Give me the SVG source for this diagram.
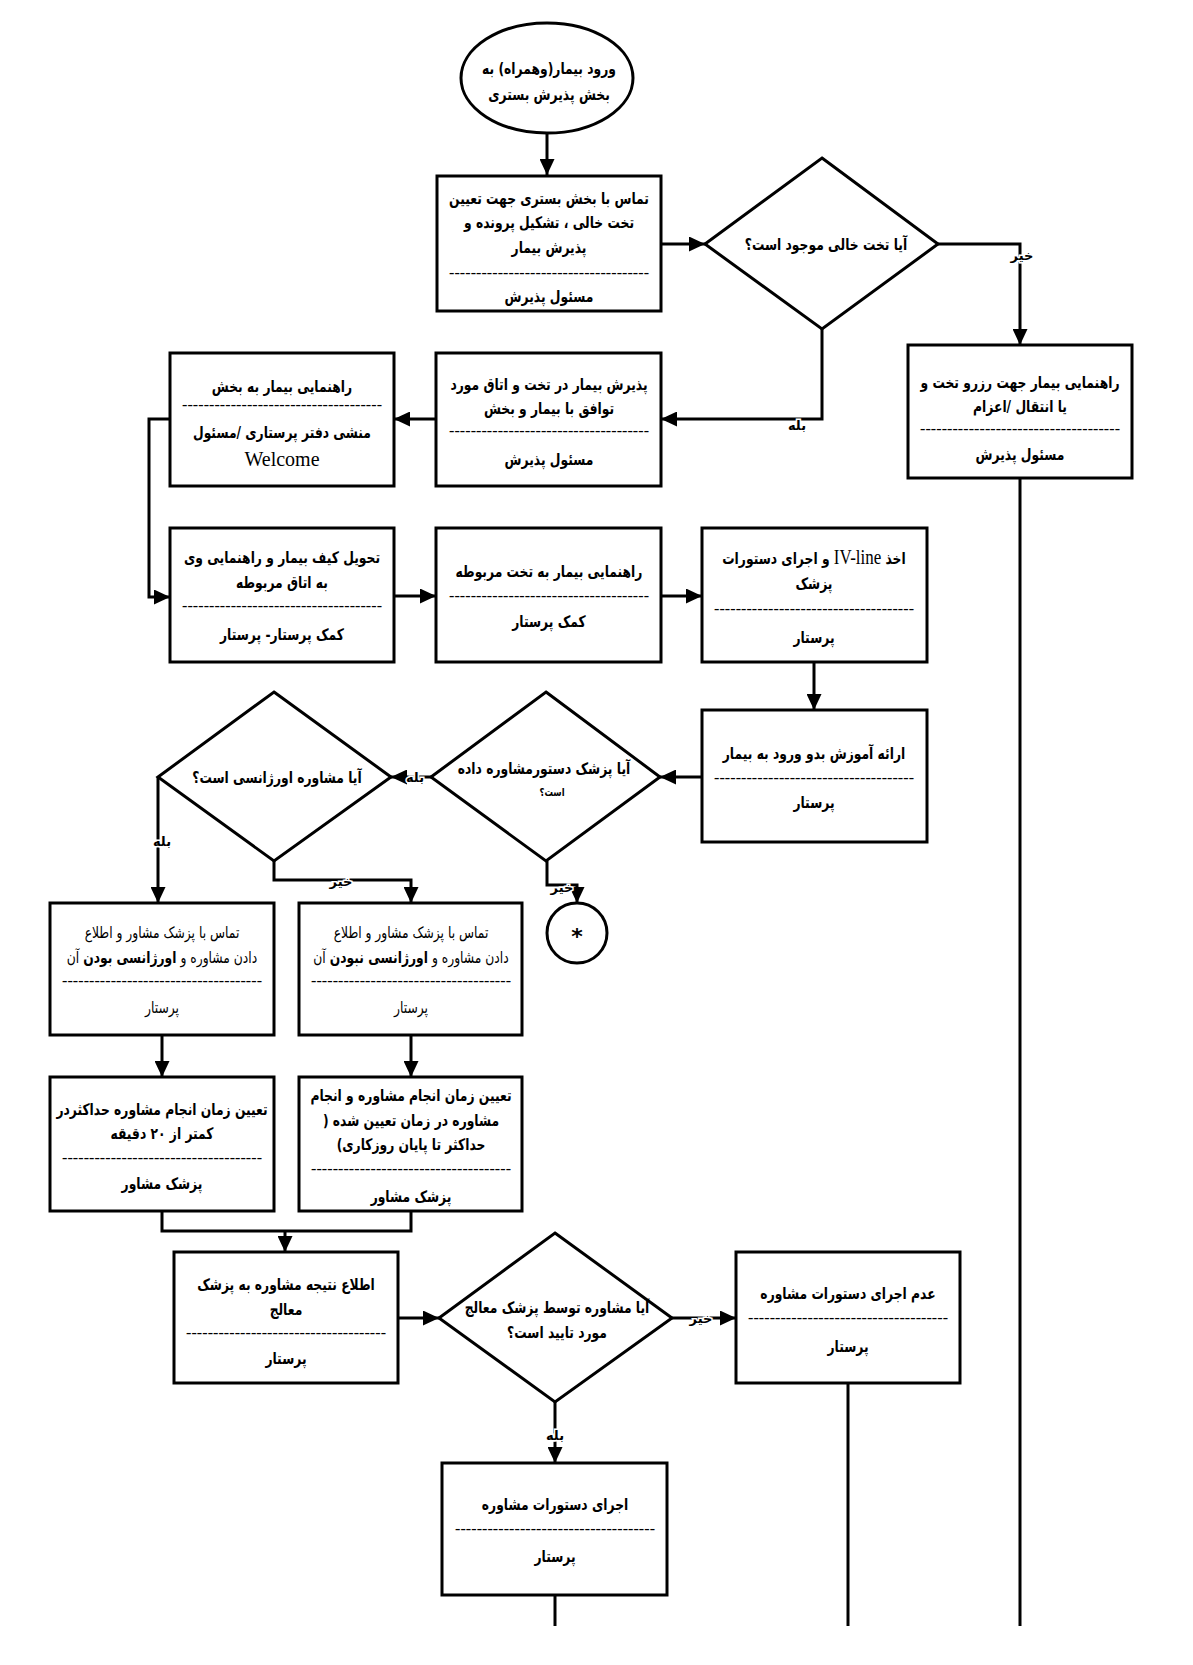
<svg xmlns="http://www.w3.org/2000/svg" width="1193" height="1665" viewBox="0 0 1193 1665">
<defs>
<marker id="ah" markerUnits="userSpaceOnUse" markerWidth="17" markerHeight="15" refX="16" refY="7.5" orient="auto">
<path d="M0,0 L16,7.5 L0,15 z" fill="#000"/>
</marker>
<style>
.box{fill:#fff;stroke:#000;stroke-width:3}
.ln{fill:none;stroke:#000;stroke-width:3}
.t{font-family:"DejaVu Sans",sans-serif;font-size:16px;font-weight:bold;text-anchor:middle;fill:#000;transform:scaleX(0.77)}
.n{font-weight:normal}
.d{font-family:"Liberation Serif",serif;font-size:16px;text-anchor:middle;fill:#000}
.w{font-family:"Liberation Serif",serif;font-size:20px;text-anchor:middle;fill:#000}
.lb{font-family:"DejaVu Sans",sans-serif;font-size:13px;font-weight:bold;text-anchor:middle;fill:#000;stroke:#fff;stroke-width:3px;paint-order:stroke}
</style>
</defs>
<rect width="1193" height="1665" fill="#fff"/>

<g id="connectors">
<path class="ln" d="M547,133 L547,175" marker-end="url(#ah)"/>
<path class="ln" d="M661,244 L705,244" marker-end="url(#ah)"/>
<path class="ln" d="M938,244 L1020,244 L1020,345" marker-end="url(#ah)"/>
<path class="ln" d="M1020,478 L1020,1626"/>
<path class="ln" d="M822,329 L822,419 L661,419" marker-end="url(#ah)"/>
<path class="ln" d="M436,419 L394,419" marker-end="url(#ah)"/>
<path class="ln" d="M170,419 L149,419 L149,597 L170,597" marker-end="url(#ah)"/>
<path class="ln" d="M394,596 L436,596" marker-end="url(#ah)"/>
<path class="ln" d="M661,596 L702,596" marker-end="url(#ah)"/>
<path class="ln" d="M814,662 L814,710" marker-end="url(#ah)"/>
<path class="ln" d="M702,777 L660,777" marker-end="url(#ah)"/>
<path class="ln" d="M431,777 L391,777" marker-end="url(#ah)"/>
<path class="ln" d="M158,777 L158,903" marker-end="url(#ah)"/>
<path class="ln" d="M274,861 L274,880 L411,880 L411,903" marker-end="url(#ah)"/>
<path class="ln" d="M547,861 L547,885 L577,885 L577,903" marker-end="url(#ah)"/>
<path class="ln" d="M162,1035 L162,1077" marker-end="url(#ah)"/>
<path class="ln" d="M411,1035 L411,1077" marker-end="url(#ah)"/>
<path class="ln" d="M162,1211 L162,1231 L411,1231 L411,1211"/>
<path class="ln" d="M285,1231 L285,1252" marker-end="url(#ah)"/>
<path class="ln" d="M398,1318 L439,1318" marker-end="url(#ah)"/>
<path class="ln" d="M672,1318 L736,1318" marker-end="url(#ah)"/>
<path class="ln" d="M848,1383 L848,1626"/>
<path class="ln" d="M555,1402 L555,1463" marker-end="url(#ah)"/>
<path class="ln" d="M555,1595 L555,1626"/>
<text class="lb" x="1022" y="260" direction="rtl">خیر</text>
<text class="lb" x="797" y="430" direction="rtl">بله</text>
<text class="lb" x="415" y="782" direction="rtl">بله</text>
<text class="lb" x="162" y="846" direction="rtl">بله</text>
<text class="lb" x="341" y="886" direction="rtl">خیر</text>
<text class="lb" x="562" y="892" direction="rtl">خیر</text>
<text class="lb" x="701" y="1323" direction="rtl">خیر</text>
<text class="lb" x="555" y="1440" direction="rtl">بله</text>
</g>

<g id="start">
<ellipse class="box" cx="547" cy="78" rx="86" ry="55"/>
<text class="t" x="713" y="74" direction="rtl">ورود بیمار(وهمراه) به</text>
<text class="t" x="713" y="100" direction="rtl">بخش پذیرش بستری</text>
</g>

<g id="n1">
<rect class="box" x="437" y="176" width="224" height="135"/>
<text class="t" x="713" y="204" direction="rtl">تماس با بخش بستری جهت تعیین</text>
<text class="t" x="713" y="228" direction="rtl">تخت خالی ، تشکیل پرونده و</text>
<text class="t" x="713" y="253" direction="rtl">پذیرش بیمار</text>
<text class="d" x="549" y="278" textLength="200" lengthAdjust="spacing">-------------------------------------</text>
<text class="t" x="713" y="302" direction="rtl">مسئول پذیرش</text>
</g>

<g id="q1">
<polygon class="box" points="822,158 938,244 822,329 705,244"/>
<text class="t" x="1072.7" y="250" direction="rtl">آیا تخت خالی موجود است؟</text>
</g>

<g id="nR">
<rect class="box" x="908" y="345" width="224" height="133"/>
<text class="t" x="1324.7" y="388" direction="rtl">راهنمایی بیمار جهت رزرو تخت و</text>
<text class="t" x="1324.7" y="412" direction="rtl">یا انتقال /اعزام</text>
<text class="d" x="1020" y="434" textLength="200" lengthAdjust="spacing">-------------------------------------</text>
<text class="t" x="1324.7" y="460" direction="rtl">مسئول پذیرش</text>
</g>

<g id="n2">
<rect class="box" x="436" y="353" width="225" height="133"/>
<text class="t" x="713" y="390" direction="rtl">پذیرش بیمار در تخت و اتاق مورد</text>
<text class="t" x="713" y="414" direction="rtl">توافق با بیمار و بخش</text>
<text class="d" x="549" y="436" textLength="200" lengthAdjust="spacing">-------------------------------------</text>
<text class="t" x="713" y="465" direction="rtl">مسئول پذیرش</text>
</g>

<g id="n3">
<rect class="box" x="170" y="353" width="224" height="133"/>
<text class="t" x="366.2" y="392" direction="rtl">راهنمایی بیمار به بخش</text>
<text class="d" x="282" y="410" textLength="200" lengthAdjust="spacing">-------------------------------------</text>
<text class="t" x="366.2" y="438" direction="rtl">منشی دفتر پرستاری /مسئول</text>
<text class="w" x="282" y="466">Welcome</text>
</g>

<g id="n4">
<rect class="box" x="170" y="528" width="224" height="134"/>
<text class="t" x="366.2" y="563" direction="rtl">تحویل کیف بیمار و راهنمایی وی</text>
<text class="t" x="366.2" y="588" direction="rtl">به اتاق مربوطه</text>
<text class="d" x="282" y="611" textLength="200" lengthAdjust="spacing">-------------------------------------</text>
<text class="t" x="366.2" y="640" direction="rtl">کمک پرستار- پرستار</text>
</g>

<g id="n5">
<rect class="box" x="436" y="528" width="225" height="134"/>
<text class="t" x="713" y="577" direction="rtl">راهنمایی بیمار به تخت مربوطه</text>
<text class="d" x="549" y="601" textLength="200" lengthAdjust="spacing">-------------------------------------</text>
<text class="t" x="713" y="627" direction="rtl">کمک پرستار</text>
</g>

<g id="n6">
<rect class="box" x="702" y="528" width="225" height="134"/>
<text class="t" x="1057.1" y="564" direction="rtl">اخذ <tspan style="font-family:'Liberation Serif',serif;font-size:22px;font-weight:normal">IV-line</tspan> و اجرای دستورات</text>
<text class="t" x="1057.1" y="589" direction="rtl">پزشک</text>
<text class="d" x="814" y="614" textLength="200" lengthAdjust="spacing">-------------------------------------</text>
<text class="t" x="1057.1" y="643" direction="rtl">پرستار</text>
</g>

<g id="n7">
<rect class="box" x="702" y="710" width="225" height="132"/>
<text class="t" x="1057.1" y="759" direction="rtl">ارائه آموزش بدو ورود به بیمار</text>
<text class="d" x="814" y="783" textLength="200" lengthAdjust="spacing">-------------------------------------</text>
<text class="t" x="1057.1" y="808" direction="rtl">پرستار</text>
</g>

<g id="q2">
<polygon class="box" points="546,692 660,777 546,861 431,777"/>
<text class="t" x="706.5" y="774" direction="rtl">آیا پزشک دستورمشاوره داده</text>
<text class="t" x="716.9" y="796" direction="rtl" style="font-size:11px">است؟</text>
</g>

<g id="q3">
<polygon class="box" points="274,692 391,777 274,861 158,777"/>
<text class="t" x="359.7" y="783" direction="rtl">آیا مشاوره اورژانسی است؟</text>
</g>

<g id="end1">
<circle class="box" cx="577" cy="933" r="30"/>
<text x="577" y="944" style="font-family:'DejaVu Sans',sans-serif;font-size:22px;font-weight:bold;text-anchor:middle">*</text>
</g>

<g id="n8">
<rect class="box" x="50" y="903" width="224" height="132"/>
<text class="t n" x="210.4" y="938" direction="rtl">تماس با پزشک مشاور و اطلاع</text>
<text class="t n" x="210.4" y="963" direction="rtl">دادن مشاوره و <tspan font-weight="bold">اورژانسی بودن</tspan> آن</text>
<text class="d" x="162" y="986" textLength="200" lengthAdjust="spacing">-------------------------------------</text>
<text class="t n" x="210.4" y="1013" direction="rtl">پرستار</text>
</g>

<g id="n9">
<rect class="box" x="299" y="903" width="223" height="132"/>
<text class="t n" x="533.8" y="938" direction="rtl">تماس با پزشک مشاور و اطلاع</text>
<text class="t n" x="533.8" y="963" direction="rtl">دادن مشاوره و <tspan font-weight="bold">اورژانسی نبودن</tspan> آن</text>
<text class="d" x="411" y="986" textLength="200" lengthAdjust="spacing">-------------------------------------</text>
<text class="t n" x="533.8" y="1013" direction="rtl">پرستار</text>
</g>

<g id="n10">
<rect class="box" x="50" y="1077" width="224" height="134"/>
<text class="t" x="210.4" y="1115" direction="rtl">تعیین زمان انجام مشاوره حداکثردر</text>
<text class="t" x="210.4" y="1139" direction="rtl">کمتر از ۲۰ دقیقه</text>
<text class="d" x="162" y="1163" textLength="200" lengthAdjust="spacing">-------------------------------------</text>
<text class="t" x="210.4" y="1189" direction="rtl">پزشک مشاور</text>
</g>

<g id="n11">
<rect class="box" x="299" y="1077" width="223" height="134"/>
<text class="t" x="533.8" y="1101" direction="rtl">تعیین زمان انجام مشاوره و انجام</text>
<text class="t" x="533.8" y="1126" direction="rtl">مشاوره در زمان تعیین شده (</text>
<text class="t" x="533.8" y="1150" direction="rtl">حداکثر تا پایان روزکاری)</text>
<text class="d" x="411" y="1174" textLength="200" lengthAdjust="spacing">-------------------------------------</text>
<text class="t" x="533.8" y="1202" direction="rtl">پزشک مشاور</text>
</g>

<g id="n12">
<rect class="box" x="174" y="1252" width="224" height="131"/>
<text class="t" x="371.4" y="1290" direction="rtl">اطلاع نتیجه مشاوره به پزشک</text>
<text class="t" x="371.4" y="1315" direction="rtl">معالج</text>
<text class="d" x="286" y="1338" textLength="200" lengthAdjust="spacing">-------------------------------------</text>
<text class="t" x="371.4" y="1364" direction="rtl">پرستار</text>
</g>

<g id="q4">
<polygon class="box" points="555,1233 672,1318 555,1402 439,1318"/>
<text class="t" x="723.4" y="1313" direction="rtl">آیا مشاوره توسط پزشک معالج</text>
<text class="t" x="723.4" y="1338" direction="rtl">مورد تایید است؟</text>
</g>

<g id="n13">
<rect class="box" x="736" y="1252" width="224" height="131"/>
<text class="t" x="1101.3" y="1299" direction="rtl">عدم اجرای دستورات مشاوره</text>
<text class="d" x="848" y="1323" textLength="200" lengthAdjust="spacing">-------------------------------------</text>
<text class="t" x="1101.3" y="1352" direction="rtl">پرستار</text>
</g>

<g id="n14">
<rect class="box" x="442" y="1463" width="225" height="132"/>
<text class="t" x="720.8" y="1510" direction="rtl">اجرای دستورات مشاوره</text>
<text class="d" x="555" y="1534" textLength="200" lengthAdjust="spacing">-------------------------------------</text>
<text class="t" x="720.8" y="1562" direction="rtl">پرستار</text>
</g>
</svg>
